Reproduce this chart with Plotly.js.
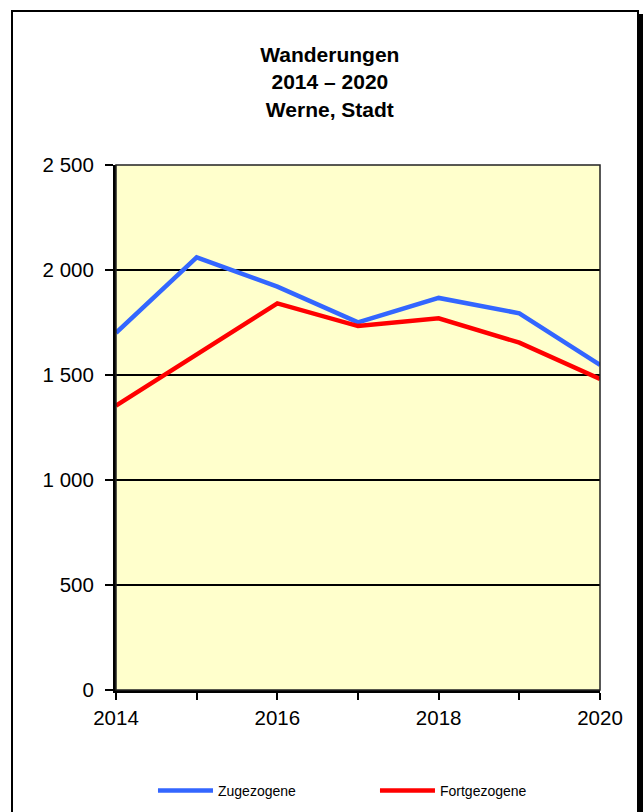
<!DOCTYPE html>
<html>
<head>
<meta charset="utf-8">
<script src="https://cdn.plot.ly/plotly-3.0.1.min.js"></script>
<style>
  html, body { margin: 0; padding: 0; background: #fff; }
  #wrap { position: relative; width: 643px; height: 812px; overflow: hidden; }
  #chart { width: 643px; height: 812px; }
  #frame { position: absolute; left: 11px; top: 10px; width: 628px; height: 900px;
           box-sizing: border-box; border: 2px solid #000; box-shadow: 4px 4px 0 #000;
           pointer-events: none; }
</style>
</head>
<body>
<div id="wrap">
  <div id="chart"></div>
  <div id="frame"></div>
</div>
<script>
const years = [2014, 2015, 2016, 2017, 2018, 2019, 2020];
const zugezogene = [1701, 2060, 1921, 1751, 1867, 1794, 1548];
const fortgezogene = [1354, 1595, 1841, 1733, 1770, 1654, 1481];
const xTickVals = [2014, 2015, 2016, 2017, 2018, 2019, 2020];
const xTickText = ['2014', '', '2016', '', '2018', '', '2020'];
const yTickVals = [0, 500, 1000, 1500, 2000, 2500];
const seriesNames = ['Zugezogene', 'Fortgezogene'];
const titleText = 'Wanderungen<br>2014 – 2020<br>Werne, Stadt';

const font = 'Liberation Sans, Arial, sans-serif';

const traces = [
  { x: years, y: zugezogene, name: seriesNames[0], type: 'scatter', mode: 'lines',
    line: { color: '#3366FF', width: 4.5 } },
  { x: years, y: fortgezogene, name: seriesNames[1], type: 'scatter', mode: 'lines',
    line: { color: '#FF0000', width: 4.5 } }
];

const layout = {
  width: 643, height: 812,
  margin: { l: 116, r: 43, t: 165, b: 122, autoexpand: false },
  paper_bgcolor: '#FFFFFF',
  plot_bgcolor: '#FFFFCC',
  separators: ', ',
  font: { family: font, color: '#000' },
  title: {
    text: titleText,
    font: { family: font, size: 21, weight: 'bold', color: '#000' },
    xref: 'container', x: 0.513, xanchor: 'center',
    yref: 'container', y: 0.9235, yanchor: 'top'
  },
  xaxis: {
    range: [2014, 2020],
    tickvals: xTickVals, ticktext: xTickText,
    ticks: 'outside', ticklen: 7, tickwidth: 2, tickcolor: '#000',
    ticklabelstandoff: 0,
    showline: true, linewidth: 3, linecolor: '#000',
    showgrid: false, zeroline: false,
    tickfont: { family: font, size: 20.5, color: '#000' }
  },
  yaxis: {
    range: [0, 2500],
    tickvals: yTickVals, tickformat: ',d',
    ticks: 'outside', ticklen: 8, tickwidth: 2, tickcolor: '#000',
    ticklabelstandoff: 7,
    showline: true, linewidth: 3, linecolor: '#000',
    showgrid: true, gridcolor: '#000', gridwidth: 2, zeroline: false,
    tickfont: { family: font, size: 20.5, color: '#000' }
  },
  shapes: [
    { type: 'rect', xref: 'paper', yref: 'paper', x0: 0, x1: 1, y0: 0, y1: 1,
      line: { color: '#222', width: 1.5 }, fillcolor: 'rgba(0,0,0,0)', layer: 'above' }
  ],
  showlegend: true,
  legend: {
    orientation: 'h', x: 0.0764, xanchor: 'left', y: -0.192, yanchor: 'middle',
    font: { family: font, size: 14, color: '#000' },
    itemwidth: 55, entrywidth: 152, entrywidthmode: 'pixels',
    bgcolor: 'rgba(0,0,0,0)', traceorder: 'normal'
  }
};

Plotly.newPlot('chart', traces, layout, { displayModeBar: false, staticPlot: true });
</script>
</body>
</html>
